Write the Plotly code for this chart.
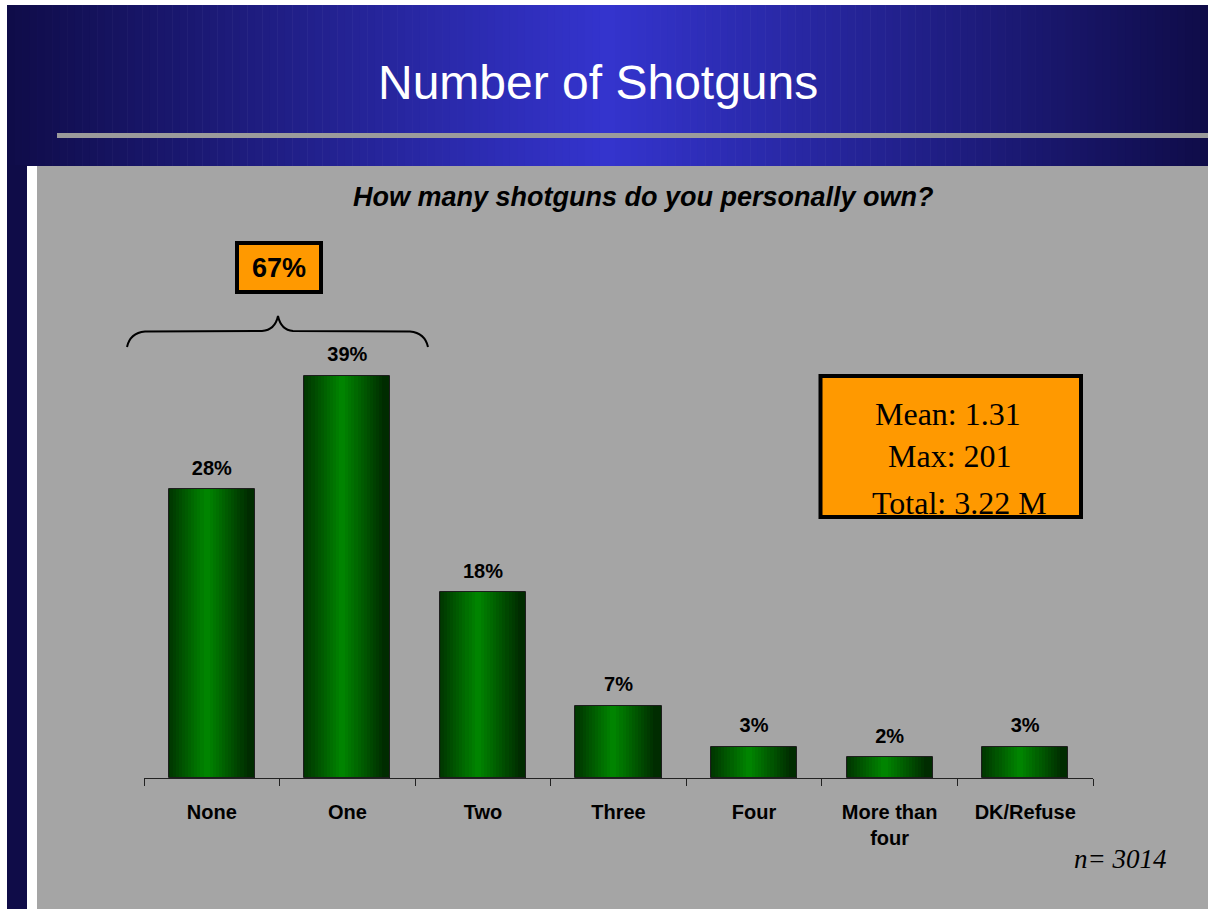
import plotly.graph_objects as go

# data
categories = ['None', 'One', 'Two', 'Three', 'Four', 'More than<br>four', 'DK/Refuse']
shares = [28, 39, 18, 7, 3, 2, 3]
share_labels = [f'{v}%' for v in shares]
bracket_label = '67%'
stats_lines = ['Mean: 1.31', 'Max: 201', 'Total: 3.22 M']
sample_note = 'n= 3014'
title_text = 'Number of Shotguns'
question_text = 'How many shotguns do you personally own?'

# positions below are in screen pixels; page margin is removed in post_script
OFF = 0
W, H = 1208, 909
L, R, T, B = 144, 115, 166, 131
PX_PER_PCT = 10.31


def px(x):
    return (x - OFF - L) / (W - L - R)


def py(y):
    return (H - B - (y - OFF)) / (H - T - B)


def mix(c0, c1, t):
    return 'rgb({},{},{})'.format(*[round(a + (b - a) * t) for a, b in zip(c0, c1)])


fig = go.Figure()

# --- bars: stacked overlay layers fake the horizontal green gradient ---
bar_w = 0.635
shift = -0.06 * bar_w
edge_green, mid_green = (0, 44, 0), (0, 132, 0)
n_layers = 14
for k in range(n_layers):
    if k == 0:
        left, right = -bar_w / 2, bar_w / 2
    else:
        half = (bar_w / 2) * (1 - k / n_layers)
        left = max(-bar_w / 2, shift - half)
        right = min(bar_w / 2, shift + half)
    fig.add_trace(go.Bar(
        x=categories, y=shares,
        width=right - left, offset=left,
        marker=dict(color=mix(edge_green, mid_green, k / (n_layers - 1)), line_width=0),
        hoverinfo='skip', showlegend=False,
    ))

# outline on top
fig.add_trace(go.Bar(
    x=categories, y=shares, width=bar_w, offset=-bar_w / 2,
    marker=dict(color='rgba(0,0,0,0)', line=dict(color='#1e1e1e', width=1)),
    hoverinfo='skip', showlegend=False,
))

# value labels
fig.add_trace(go.Scatter(
    x=categories, y=shares, text=share_labels,
    mode='markers+text', textposition='top center',
    marker=dict(size=14, color='rgba(0,0,0,0)'),
    textfont=dict(family='Liberation Sans', size=20, color='black', weight='bold'),
    cliponaxis=False, hoverinfo='skip', showlegend=False,
))

# --- slide background ---
shapes = []
n_strips = 160
x_start, x_end, x_mid = 7, 1208, 607
navy, bright = (15, 12, 72), (52, 52, 206)
step = (x_end - x_start) / n_strips
for i in range(n_strips):
    x0 = x_start + i * step
    xc = x0 + step / 2
    t = max(0.0, 1 - abs(xc - x_mid) / 601)
    shapes.append(dict(type='rect', xref='paper', yref='paper', layer='below',
                       x0=px(x0), x1=px(x0 + step + 0.6), y0=py(166), y1=py(5),
                       fillcolor=mix(navy, bright, t), line_width=0))
shapes += [
    dict(type='rect', xref='paper', yref='paper', layer='below',
         x0=px(7), x1=px(27), y0=py(910), y1=py(165),
         fillcolor='#0f0c48', line_width=0),
    dict(type='rect', xref='paper', yref='paper', layer='below',
         x0=px(37), x1=px(1210), y0=py(910), y1=py(166),
         fillcolor='#a5a5a5', line_width=0),
    dict(type='rect', xref='paper', yref='paper', layer='below',
         x0=px(57), x1=px(1210), y0=py(138), y1=py(133),
         fillcolor='#9b9b9b', line_width=0),
]

# curly bracket over None + One
brace = (f'M{px(127)},{py(347)} Q{px(130)},{py(333)} {px(145)},{py(331.5)} '
         f'L{px(262)},{py(331)} Q{px(275)},{py(330)} {px(278)},{py(316)} '
         f'Q{px(281)},{py(330)} {px(293)},{py(331)} '
         f'L{px(410)},{py(331.5)} Q{px(425)},{py(333)} {px(428)},{py(347)}')
shapes.append(dict(type='path', xref='paper', yref='paper', path=brace,
                   line=dict(color='black', width=2)))

# orange boxes
shapes.append(dict(type='rect', xref='paper', yref='paper',
                   x0=px(237), x1=px(321), y0=py(292), y1=py(243),
                   fillcolor='#ff9900', line=dict(color='black', width=4)))
shapes.append(dict(type='rect', xref='paper', yref='paper',
                   x0=px(820.5), x1=px(1081), y0=py(517), y1=py(376),
                   fillcolor='#ff9900', line=dict(color='black', width=4)))

annotations = [
    dict(text=title_text, x=px(598), y=py(82), xref='paper', yref='paper',
         showarrow=False, xanchor='center', yanchor='middle',
         font=dict(family='Liberation Sans', size=48, color='white')),
    dict(text=question_text, x=px(643), y=py(197), xref='paper', yref='paper',
         showarrow=False, xanchor='center', yanchor='middle',
         font=dict(family='Liberation Sans', size=27, color='black',
                   weight='bold', style='italic')),
    dict(text=bracket_label, x=px(279), y=py(268), xref='paper', yref='paper',
         showarrow=False, xanchor='center', yanchor='middle',
         font=dict(family='Liberation Sans', size=27, color='black', weight='bold')),
    dict(text=sample_note, x=px(1120), y=py(859), xref='paper', yref='paper',
         showarrow=False, xanchor='center', yanchor='middle',
         font=dict(family='Liberation Serif', size=27, color='black', style='italic')),
]
for line, (cx, cy) in zip(stats_lines, [(948, 414), (950, 456), (959, 503)]):
    annotations.append(dict(text=line, x=px(cx), y=py(cy), xref='paper', yref='paper',
                            showarrow=False, xanchor='center', yanchor='middle',
                            font=dict(family='Liberation Serif', size=32, color='black')))

fig.update_layout(
    width=W, height=H,
    margin=dict(l=L, r=R, t=T, b=B, pad=0),
    paper_bgcolor='white', plot_bgcolor='rgba(0,0,0,0)',
    barmode='overlay', bargap=0,
    showlegend=False,
    shapes=shapes, annotations=annotations,
    xaxis=dict(type='category', range=[-0.5, 6.5], showgrid=False, zeroline=False,
               showline=True, linecolor='#222', linewidth=1,
               ticks='outside', tickson='boundaries', ticklen=7, tickcolor='#222',
               ticklabelstandoff=16,
               tickfont=dict(family='Liberation Sans', size=20, color='black', weight='bold')),
    yaxis=dict(range=[0, (H - T - B) / PX_PER_PCT], visible=False, fixedrange=True),
)

fig.write_html('out.html', config={'displayModeBar': False},
               post_script="document.body.style.margin='0';document.body.style.overflow='hidden';")
